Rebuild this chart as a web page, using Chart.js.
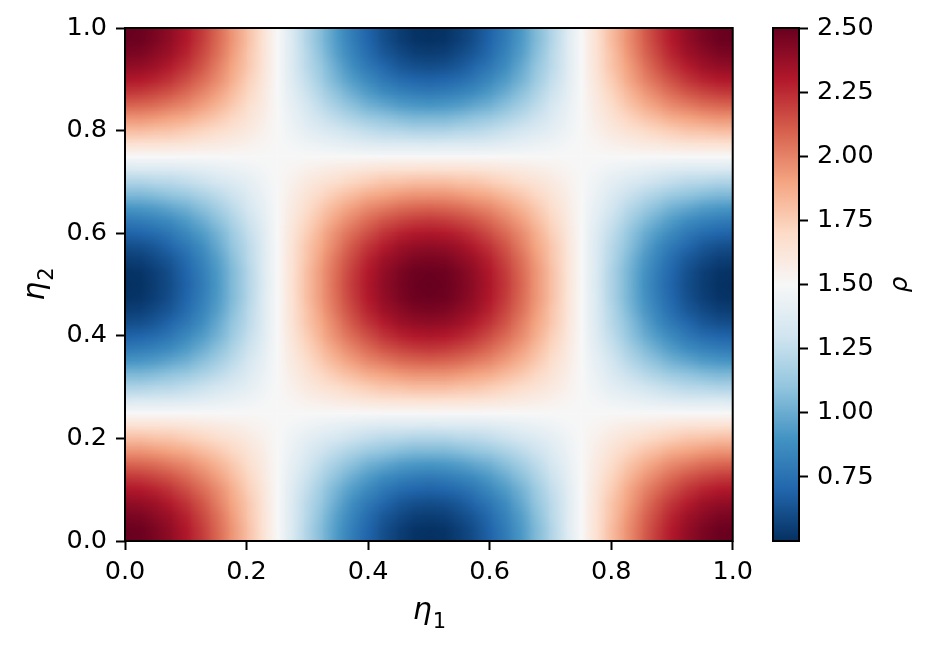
<!DOCTYPE html>
<html>
<head>
<meta charset="utf-8">
<script src="https://cdn.jsdelivr.net/npm/chart.js@4.4.0/dist/chart.umd.min.js"></script>
<style>
  html, body { margin: 0; padding: 0; background: #fff; }
  #wrap { position: relative; width: 932px; height: 650px; overflow: hidden; }
  #main { position: absolute; left: 0; top: 0; }
  #cbar { position: absolute; left: 760px; top: 0; }
</style>
</head>
<body>
<div id="wrap">
  <canvas id="main" width="760" height="650" style="width:760px;height:650px"></canvas>
  <canvas id="cbar" width="172" height="650" style="width:172px;height:650px"></canvas>
</div>
<script>
// ===== DATA =====

// grid nodes along eta1 (columns) and eta2 (rows)
const eta = [0.000, 0.025, 0.050, 0.075, 0.100, 0.125, 0.150, 0.175, 0.200, 0.225,
             0.250, 0.275, 0.300, 0.325, 0.350, 0.375, 0.400, 0.425, 0.450, 0.475,
             0.500, 0.525, 0.550, 0.575, 0.600, 0.625, 0.650, 0.675, 0.700, 0.725,
             0.750, 0.775, 0.800, 0.825, 0.850, 0.875, 0.900, 0.925, 0.950, 0.975, 1.000];

const etaTicks = [0.0, 0.2, 0.4, 0.6, 0.8, 1.0];
const rhoTicks = [0.75, 1.00, 1.25, 1.50, 1.75, 2.00, 2.25, 2.50];
const rhoMin = 0.5;
const rhoMax = 2.5;

// rho[j][i] : j = eta2 index (bottom -> top), i = eta1 index (left -> right)
const rho = [
  [2.50,2.49,2.45,2.39,2.31,2.21,2.09,1.95,1.81,1.66,1.50,1.34,1.19,1.05,0.91,0.79,0.69,0.61,0.55,0.51,0.50,0.51,0.55,0.61,0.69,0.79,0.91,1.05,1.19,1.34,1.50,1.66,1.81,1.95,2.09,2.21,2.31,2.39,2.45,2.49,2.50],
  [2.49,2.48,2.44,2.38,2.30,2.20,2.08,1.95,1.81,1.65,1.50,1.35,1.19,1.05,0.92,0.80,0.70,0.62,0.56,0.52,0.51,0.52,0.56,0.62,0.70,0.80,0.92,1.05,1.19,1.35,1.50,1.65,1.81,1.95,2.08,2.20,2.30,2.38,2.44,2.48,2.49],
  [2.45,2.44,2.40,2.35,2.27,2.17,2.06,1.93,1.79,1.65,1.50,1.35,1.21,1.07,0.94,0.83,0.73,0.65,0.60,0.56,0.55,0.56,0.60,0.65,0.73,0.83,0.94,1.07,1.21,1.35,1.50,1.65,1.79,1.93,2.06,2.17,2.27,2.35,2.40,2.44,2.45],
  [2.39,2.38,2.35,2.29,2.22,2.13,2.02,1.90,1.78,1.64,1.50,1.36,1.22,1.10,0.98,0.87,0.78,0.71,0.65,0.62,0.61,0.62,0.65,0.71,0.78,0.87,0.98,1.10,1.22,1.36,1.50,1.64,1.78,1.90,2.02,2.13,2.22,2.29,2.35,2.38,2.39],
  [2.31,2.30,2.27,2.22,2.15,2.07,1.98,1.87,1.75,1.63,1.50,1.37,1.25,1.13,1.02,0.93,0.85,0.78,0.73,0.70,0.69,0.70,0.73,0.78,0.85,0.93,1.02,1.13,1.25,1.37,1.50,1.63,1.75,1.87,1.98,2.07,2.15,2.22,2.27,2.30,2.31],
  [2.21,2.20,2.17,2.13,2.07,2.00,1.92,1.82,1.72,1.61,1.50,1.39,1.28,1.18,1.08,1.00,0.93,0.87,0.83,0.80,0.79,0.80,0.83,0.87,0.93,1.00,1.08,1.18,1.28,1.39,1.50,1.61,1.72,1.82,1.92,2.00,2.07,2.13,2.17,2.20,2.21],
  [2.09,2.08,2.06,2.02,1.98,1.92,1.85,1.77,1.68,1.59,1.50,1.41,1.32,1.23,1.15,1.08,1.02,0.98,0.94,0.92,0.91,0.92,0.94,0.98,1.02,1.08,1.15,1.23,1.32,1.41,1.50,1.59,1.68,1.77,1.85,1.92,1.98,2.02,2.06,2.08,2.09],
  [1.95,1.95,1.93,1.90,1.87,1.82,1.77,1.71,1.64,1.57,1.50,1.43,1.36,1.29,1.23,1.18,1.13,1.10,1.07,1.05,1.05,1.05,1.07,1.10,1.13,1.18,1.23,1.29,1.36,1.43,1.50,1.57,1.64,1.71,1.77,1.82,1.87,1.90,1.93,1.95,1.95],
  [1.81,1.81,1.79,1.78,1.75,1.72,1.68,1.64,1.60,1.55,1.50,1.45,1.40,1.36,1.32,1.28,1.25,1.22,1.21,1.19,1.19,1.19,1.21,1.22,1.25,1.28,1.32,1.36,1.40,1.45,1.50,1.55,1.60,1.64,1.68,1.72,1.75,1.78,1.79,1.81,1.81],
  [1.66,1.65,1.65,1.64,1.63,1.61,1.59,1.57,1.55,1.52,1.50,1.48,1.45,1.43,1.41,1.39,1.37,1.36,1.35,1.35,1.34,1.35,1.35,1.36,1.37,1.39,1.41,1.43,1.45,1.48,1.50,1.52,1.55,1.57,1.59,1.61,1.63,1.64,1.65,1.65,1.66],
  [1.50,1.50,1.50,1.50,1.50,1.50,1.50,1.50,1.50,1.50,1.50,1.50,1.50,1.50,1.50,1.50,1.50,1.50,1.50,1.50,1.50,1.50,1.50,1.50,1.50,1.50,1.50,1.50,1.50,1.50,1.50,1.50,1.50,1.50,1.50,1.50,1.50,1.50,1.50,1.50,1.50],
  [1.34,1.35,1.35,1.36,1.37,1.39,1.41,1.43,1.45,1.48,1.50,1.52,1.55,1.57,1.59,1.61,1.63,1.64,1.65,1.65,1.66,1.65,1.65,1.64,1.63,1.61,1.59,1.57,1.55,1.52,1.50,1.48,1.45,1.43,1.41,1.39,1.37,1.36,1.35,1.35,1.34],
  [1.19,1.19,1.21,1.22,1.25,1.28,1.32,1.36,1.40,1.45,1.50,1.55,1.60,1.64,1.68,1.72,1.75,1.78,1.79,1.81,1.81,1.81,1.79,1.78,1.75,1.72,1.68,1.64,1.60,1.55,1.50,1.45,1.40,1.36,1.32,1.28,1.25,1.22,1.21,1.19,1.19],
  [1.05,1.05,1.07,1.10,1.13,1.18,1.23,1.29,1.36,1.43,1.50,1.57,1.64,1.71,1.77,1.82,1.87,1.90,1.93,1.95,1.95,1.95,1.93,1.90,1.87,1.82,1.77,1.71,1.64,1.57,1.50,1.43,1.36,1.29,1.23,1.18,1.13,1.10,1.07,1.05,1.05],
  [0.91,0.92,0.94,0.98,1.02,1.08,1.15,1.23,1.32,1.41,1.50,1.59,1.68,1.77,1.85,1.92,1.98,2.02,2.06,2.08,2.09,2.08,2.06,2.02,1.98,1.92,1.85,1.77,1.68,1.59,1.50,1.41,1.32,1.23,1.15,1.08,1.02,0.98,0.94,0.92,0.91],
  [0.79,0.80,0.83,0.87,0.93,1.00,1.08,1.18,1.28,1.39,1.50,1.61,1.72,1.82,1.92,2.00,2.07,2.13,2.17,2.20,2.21,2.20,2.17,2.13,2.07,2.00,1.92,1.82,1.72,1.61,1.50,1.39,1.28,1.18,1.08,1.00,0.93,0.87,0.83,0.80,0.79],
  [0.69,0.70,0.73,0.78,0.85,0.93,1.02,1.13,1.25,1.37,1.50,1.63,1.75,1.87,1.98,2.07,2.15,2.22,2.27,2.30,2.31,2.30,2.27,2.22,2.15,2.07,1.98,1.87,1.75,1.63,1.50,1.37,1.25,1.13,1.02,0.93,0.85,0.78,0.73,0.70,0.69],
  [0.61,0.62,0.65,0.71,0.78,0.87,0.98,1.10,1.22,1.36,1.50,1.64,1.78,1.90,2.02,2.13,2.22,2.29,2.35,2.38,2.39,2.38,2.35,2.29,2.22,2.13,2.02,1.90,1.78,1.64,1.50,1.36,1.22,1.10,0.98,0.87,0.78,0.71,0.65,0.62,0.61],
  [0.55,0.56,0.60,0.65,0.73,0.83,0.94,1.07,1.21,1.35,1.50,1.65,1.79,1.93,2.06,2.17,2.27,2.35,2.40,2.44,2.45,2.44,2.40,2.35,2.27,2.17,2.06,1.93,1.79,1.65,1.50,1.35,1.21,1.07,0.94,0.83,0.73,0.65,0.60,0.56,0.55],
  [0.51,0.52,0.56,0.62,0.70,0.80,0.92,1.05,1.19,1.35,1.50,1.65,1.81,1.95,2.08,2.20,2.30,2.38,2.44,2.48,2.49,2.48,2.44,2.38,2.30,2.20,2.08,1.95,1.81,1.65,1.50,1.35,1.19,1.05,0.92,0.80,0.70,0.62,0.56,0.52,0.51],
  [0.50,0.51,0.55,0.61,0.69,0.79,0.91,1.05,1.19,1.34,1.50,1.66,1.81,1.95,2.09,2.21,2.31,2.39,2.45,2.49,2.50,2.49,2.45,2.39,2.31,2.21,2.09,1.95,1.81,1.66,1.50,1.34,1.19,1.05,0.91,0.79,0.69,0.61,0.55,0.51,0.50],
  [0.51,0.52,0.56,0.62,0.70,0.80,0.92,1.05,1.19,1.35,1.50,1.65,1.81,1.95,2.08,2.20,2.30,2.38,2.44,2.48,2.49,2.48,2.44,2.38,2.30,2.20,2.08,1.95,1.81,1.65,1.50,1.35,1.19,1.05,0.92,0.80,0.70,0.62,0.56,0.52,0.51],
  [0.55,0.56,0.60,0.65,0.73,0.83,0.94,1.07,1.21,1.35,1.50,1.65,1.79,1.93,2.06,2.17,2.27,2.35,2.40,2.44,2.45,2.44,2.40,2.35,2.27,2.17,2.06,1.93,1.79,1.65,1.50,1.35,1.21,1.07,0.94,0.83,0.73,0.65,0.60,0.56,0.55],
  [0.61,0.62,0.65,0.71,0.78,0.87,0.98,1.10,1.22,1.36,1.50,1.64,1.78,1.90,2.02,2.13,2.22,2.29,2.35,2.38,2.39,2.38,2.35,2.29,2.22,2.13,2.02,1.90,1.78,1.64,1.50,1.36,1.22,1.10,0.98,0.87,0.78,0.71,0.65,0.62,0.61],
  [0.69,0.70,0.73,0.78,0.85,0.93,1.02,1.13,1.25,1.37,1.50,1.63,1.75,1.87,1.98,2.07,2.15,2.22,2.27,2.30,2.31,2.30,2.27,2.22,2.15,2.07,1.98,1.87,1.75,1.63,1.50,1.37,1.25,1.13,1.02,0.93,0.85,0.78,0.73,0.70,0.69],
  [0.79,0.80,0.83,0.87,0.93,1.00,1.08,1.18,1.28,1.39,1.50,1.61,1.72,1.82,1.92,2.00,2.07,2.13,2.17,2.20,2.21,2.20,2.17,2.13,2.07,2.00,1.92,1.82,1.72,1.61,1.50,1.39,1.28,1.18,1.08,1.00,0.93,0.87,0.83,0.80,0.79],
  [0.91,0.92,0.94,0.98,1.02,1.08,1.15,1.23,1.32,1.41,1.50,1.59,1.68,1.77,1.85,1.92,1.98,2.02,2.06,2.08,2.09,2.08,2.06,2.02,1.98,1.92,1.85,1.77,1.68,1.59,1.50,1.41,1.32,1.23,1.15,1.08,1.02,0.98,0.94,0.92,0.91],
  [1.05,1.05,1.07,1.10,1.13,1.18,1.23,1.29,1.36,1.43,1.50,1.57,1.64,1.71,1.77,1.82,1.87,1.90,1.93,1.95,1.95,1.95,1.93,1.90,1.87,1.82,1.77,1.71,1.64,1.57,1.50,1.43,1.36,1.29,1.23,1.18,1.13,1.10,1.07,1.05,1.05],
  [1.19,1.19,1.21,1.22,1.25,1.28,1.32,1.36,1.40,1.45,1.50,1.55,1.60,1.64,1.68,1.72,1.75,1.78,1.79,1.81,1.81,1.81,1.79,1.78,1.75,1.72,1.68,1.64,1.60,1.55,1.50,1.45,1.40,1.36,1.32,1.28,1.25,1.22,1.21,1.19,1.19],
  [1.34,1.35,1.35,1.36,1.37,1.39,1.41,1.43,1.45,1.48,1.50,1.52,1.55,1.57,1.59,1.61,1.63,1.64,1.65,1.65,1.66,1.65,1.65,1.64,1.63,1.61,1.59,1.57,1.55,1.52,1.50,1.48,1.45,1.43,1.41,1.39,1.37,1.36,1.35,1.35,1.34],
  [1.50,1.50,1.50,1.50,1.50,1.50,1.50,1.50,1.50,1.50,1.50,1.50,1.50,1.50,1.50,1.50,1.50,1.50,1.50,1.50,1.50,1.50,1.50,1.50,1.50,1.50,1.50,1.50,1.50,1.50,1.50,1.50,1.50,1.50,1.50,1.50,1.50,1.50,1.50,1.50,1.50],
  [1.66,1.65,1.65,1.64,1.63,1.61,1.59,1.57,1.55,1.52,1.50,1.48,1.45,1.43,1.41,1.39,1.37,1.36,1.35,1.35,1.34,1.35,1.35,1.36,1.37,1.39,1.41,1.43,1.45,1.48,1.50,1.52,1.55,1.57,1.59,1.61,1.63,1.64,1.65,1.65,1.66],
  [1.81,1.81,1.79,1.78,1.75,1.72,1.68,1.64,1.60,1.55,1.50,1.45,1.40,1.36,1.32,1.28,1.25,1.22,1.21,1.19,1.19,1.19,1.21,1.22,1.25,1.28,1.32,1.36,1.40,1.45,1.50,1.55,1.60,1.64,1.68,1.72,1.75,1.78,1.79,1.81,1.81],
  [1.95,1.95,1.93,1.90,1.87,1.82,1.77,1.71,1.64,1.57,1.50,1.43,1.36,1.29,1.23,1.18,1.13,1.10,1.07,1.05,1.05,1.05,1.07,1.10,1.13,1.18,1.23,1.29,1.36,1.43,1.50,1.57,1.64,1.71,1.77,1.82,1.87,1.90,1.93,1.95,1.95],
  [2.09,2.08,2.06,2.02,1.98,1.92,1.85,1.77,1.68,1.59,1.50,1.41,1.32,1.23,1.15,1.08,1.02,0.98,0.94,0.92,0.91,0.92,0.94,0.98,1.02,1.08,1.15,1.23,1.32,1.41,1.50,1.59,1.68,1.77,1.85,1.92,1.98,2.02,2.06,2.08,2.09],
  [2.21,2.20,2.17,2.13,2.07,2.00,1.92,1.82,1.72,1.61,1.50,1.39,1.28,1.18,1.08,1.00,0.93,0.87,0.83,0.80,0.79,0.80,0.83,0.87,0.93,1.00,1.08,1.18,1.28,1.39,1.50,1.61,1.72,1.82,1.92,2.00,2.07,2.13,2.17,2.20,2.21],
  [2.31,2.30,2.27,2.22,2.15,2.07,1.98,1.87,1.75,1.63,1.50,1.37,1.25,1.13,1.02,0.93,0.85,0.78,0.73,0.70,0.69,0.70,0.73,0.78,0.85,0.93,1.02,1.13,1.25,1.37,1.50,1.63,1.75,1.87,1.98,2.07,2.15,2.22,2.27,2.30,2.31],
  [2.39,2.38,2.35,2.29,2.22,2.13,2.02,1.90,1.78,1.64,1.50,1.36,1.22,1.10,0.98,0.87,0.78,0.71,0.65,0.62,0.61,0.62,0.65,0.71,0.78,0.87,0.98,1.10,1.22,1.36,1.50,1.64,1.78,1.90,2.02,2.13,2.22,2.29,2.35,2.38,2.39],
  [2.45,2.44,2.40,2.35,2.27,2.17,2.06,1.93,1.79,1.65,1.50,1.35,1.21,1.07,0.94,0.83,0.73,0.65,0.60,0.56,0.55,0.56,0.60,0.65,0.73,0.83,0.94,1.07,1.21,1.35,1.50,1.65,1.79,1.93,2.06,2.17,2.27,2.35,2.40,2.44,2.45],
  [2.49,2.48,2.44,2.38,2.30,2.20,2.08,1.95,1.81,1.65,1.50,1.35,1.19,1.05,0.92,0.80,0.70,0.62,0.56,0.52,0.51,0.52,0.56,0.62,0.70,0.80,0.92,1.05,1.19,1.35,1.50,1.65,1.81,1.95,2.08,2.20,2.30,2.38,2.44,2.48,2.49],
  [2.50,2.49,2.45,2.39,2.31,2.21,2.09,1.95,1.81,1.66,1.50,1.34,1.19,1.05,0.91,0.79,0.69,0.61,0.55,0.51,0.50,0.51,0.55,0.61,0.69,0.79,0.91,1.05,1.19,1.34,1.50,1.66,1.81,1.95,2.09,2.21,2.31,2.39,2.45,2.49,2.50]
];

// ===== COLORMAP (matplotlib RdBu_r anchors) =====
const RDBU_R = [
  [5, 48, 97], [33, 102, 172], [67, 147, 195], [146, 197, 222], [209, 229, 240],
  [247, 247, 247], [253, 219, 199], [244, 165, 130], [214, 96, 77], [178, 24, 43], [103, 0, 31]
];

function rdbuRGB(v) {
  let t = (v - rhoMin) / (rhoMax - rhoMin);
  t = Math.min(1, Math.max(0, t));
  const s = t * (RDBU_R.length - 1);
  const k = Math.min(Math.floor(s), RDBU_R.length - 2);
  const f = s - k;
  const a = RDBU_R[k], b = RDBU_R[k + 1];
  return a.map((av, n) => Math.round(av + (b[n] - av) * f));
}

const FONT = "'DejaVu Sans', 'Liberation Sans', sans-serif";
const TICK_SIZE = 25.5;

// one image pixel per grid value (top row = largest eta2)
const nx = eta.length, ny = rho.length;
const cellImage = document.createElement("canvas");
cellImage.width = nx;
cellImage.height = ny;
(function paintCells() {
  const octx = cellImage.getContext("2d");
  const img = octx.createImageData(nx, ny);
  for (let j = 0; j < ny; j++) {
    for (let i = 0; i < nx; i++) {
      const c = rdbuRGB(rho[j][i]);
      const p = ((ny - 1 - j) * nx + i) * 4;
      img.data[p] = c[0];
      img.data[p + 1] = c[1];
      img.data[p + 2] = c[2];
      img.data[p + 3] = 255;
    }
  }
  octx.putImageData(img, 0, 0);
})();

// ===== HEATMAP =====
const heatmapPlugin = {
  id: "heatmap",
  beforeDatasetsDraw(chart) {
    const { ctx, chartArea, scales } = chart;
    const xs = scales.x, ys = scales.y;
    // each pixel of cellImage is centred on its grid node
    const hx0 = (eta[1] - eta[0]) / 2, hx1 = (eta[nx - 1] - eta[nx - 2]) / 2;
    const left = xs.getPixelForValue(eta[0] - hx0);
    const right = xs.getPixelForValue(eta[nx - 1] + hx1);
    const top = ys.getPixelForValue(eta[ny - 1] + hx1);
    const bottom = ys.getPixelForValue(eta[0] - hx0);
    ctx.save();
    ctx.beginPath();
    ctx.rect(chartArea.left, chartArea.top, chartArea.width, chartArea.height);
    ctx.clip();
    ctx.imageSmoothingEnabled = true;
    ctx.imageSmoothingQuality = "low";
    ctx.drawImage(cellImage, left, top, right - left, bottom - top);
    ctx.restore();
  },
  afterDraw(chart) {
    const { ctx, chartArea } = chart;
    ctx.save();
    // frame
    ctx.strokeStyle = "#000";
    ctx.lineWidth = 2;
    ctx.strokeRect(chartArea.left, chartArea.top, chartArea.width, chartArea.height);

    // axis labels with subscripts
    ctx.fillStyle = "#000";
    ctx.textBaseline = "alphabetic";
    ctx.textAlign = "left";
    const bigFont = "italic 30px " + FONT;
    const subFont = "21px " + FONT;

    // eta_1
    ctx.font = bigFont;
    const w1 = ctx.measureText("η").width;
    ctx.font = subFont;
    const s1 = ctx.measureText("1").width;
    const cx = (chartArea.left + chartArea.right) / 2;
    const x0 = cx - (w1 + s1) / 2;
    ctx.font = bigFont;
    ctx.fillText("η", x0, 619);
    ctx.font = subFont;
    ctx.fillText("1", x0 + w1 + 1, 628);

    // eta_2 (rotated)
    const cy = (chartArea.top + chartArea.bottom) / 2;
    ctx.translate(44, cy);
    ctx.rotate(-Math.PI / 2);
    ctx.font = bigFont;
    const w2 = ctx.measureText("η").width;
    ctx.font = subFont;
    const s2 = ctx.measureText("2").width;
    const y0 = -(w2 + s2) / 2;
    ctx.font = bigFont;
    ctx.fillText("η", y0, 0);
    ctx.font = subFont;
    ctx.fillText("2", y0 + w2 + 1, 9);
    ctx.restore();
  }
};

const axisCommon = {
  type: "linear",
  min: 0,
  max: 1,
  afterBuildTicks: scale => { scale.ticks = etaTicks.map(v => ({ value: v })); },
  ticks: {
    color: "#000",
    font: { family: FONT, size: TICK_SIZE },
    callback: v => Number(v).toFixed(1)
  },
  grid: {
    display: true,
    drawOnChartArea: false,
    drawTicks: true,
    tickLength: 9,
    tickWidth: 2,
    tickColor: "#000"
  },
  border: { display: false }
};

new Chart(document.getElementById("main"), {
  type: "scatter",
  data: { datasets: [] },
  options: {
    responsive: false,
    animation: false,
    devicePixelRatio: 1,
    layout: { padding: { top: 28, right: 25, left: 0, bottom: 0 } },
    plugins: { legend: { display: false }, tooltip: { enabled: false } },
    scales: {
      x: Object.assign({}, axisCommon, {
        position: "bottom",
        ticks: Object.assign({}, axisCommon.ticks, { padding: 7, maxRotation: 0 }),
        afterFit: scale => { scale.height = 109; }
      }),
      y: Object.assign({}, axisCommon, {
        position: "left",
        ticks: Object.assign({}, axisCommon.ticks, { padding: 9 }),
        afterFit: scale => { scale.width = 125; }
      })
    }
  },
  plugins: [heatmapPlugin]
});

// ===== COLORBAR =====
const colorbarPlugin = {
  id: "colorbar",
  beforeDatasetsDraw(chart) {
    const { ctx, chartArea, scales } = chart;
    const ys = scales.y;
    const yLo = ys.getPixelForValue(rhoMin);
    const yHi = ys.getPixelForValue(rhoMax);
    const grad = ctx.createLinearGradient(0, yLo, 0, yHi);
    RDBU_R.forEach((c, n) => {
      grad.addColorStop(n / (RDBU_R.length - 1), `rgb(${c[0]},${c[1]},${c[2]})`);
    });
    ctx.save();
    ctx.fillStyle = grad;
    ctx.fillRect(chartArea.left, yHi, chartArea.width, yLo - yHi);
    ctx.restore();
  },
  afterDraw(chart) {
    const { ctx, chartArea } = chart;
    ctx.save();
    ctx.strokeStyle = "#000";
    ctx.lineWidth = 2;
    ctx.strokeRect(chartArea.left, chartArea.top, chartArea.width, chartArea.height);
    // colorbar label
    ctx.translate(140, (chartArea.top + chartArea.bottom) / 2);
    ctx.rotate(-Math.PI / 2);
    ctx.fillStyle = "#000";
    ctx.font = "italic 25px " + FONT;
    ctx.textAlign = "center";
    ctx.textBaseline = "middle";
    ctx.fillText("ρ", 0, 0);
    ctx.restore();
  }
};

new Chart(document.getElementById("cbar"), {
  type: "scatter",
  data: { datasets: [] },
  options: {
    responsive: false,
    animation: false,
    devicePixelRatio: 1,
    layout: { padding: { top: 28, right: 0, left: 13, bottom: 109 } },
    plugins: { legend: { display: false }, tooltip: { enabled: false } },
    scales: {
      x: { type: "linear", display: false, min: 0, max: 1 },
      y: {
        type: "linear",
        position: "right",
        min: rhoMin,
        max: rhoMax,
        afterBuildTicks: scale => { scale.ticks = rhoTicks.map(v => ({ value: v })); },
        afterFit: scale => { scale.width = 133; },
        ticks: {
          color: "#000",
          padding: 9,
          font: { family: FONT, size: TICK_SIZE },
          callback: v => Number(v).toFixed(2)
        },
        grid: {
          display: true,
          drawOnChartArea: false,
          drawTicks: true,
          tickLength: 9,
          tickWidth: 2,
          tickColor: "#000"
        },
        border: { display: false }
      }
    }
  },
  plugins: [colorbarPlugin]
});
</script>
</body>
</html>
